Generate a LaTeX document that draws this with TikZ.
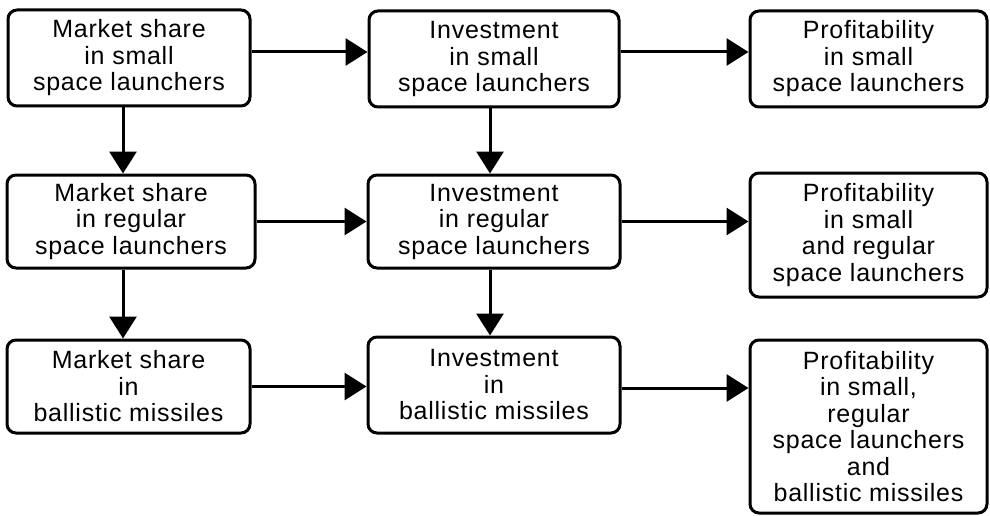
\documentclass[tikz,border=0pt]{standalone}
\usepackage{fontspec}
\setmainfont[LetterSpace=3]{Liberation Sans}
\usetikzlibrary{arrows.meta,calc}
\begin{document}
\begin{tikzpicture}[x=1pt,y=-1pt,
  box/.style={draw,line width=3pt,rounded corners=9pt,inner sep=0pt,align=center,
    font=\fontsize{25}{26.5}\selectfont},
  arr/.style={line width=3pt,-{Triangle[length=22pt,width=27pt]}}]
\useasboundingbox (0,0) rectangle (990,516);
% row 1
\node[box,minimum width=242pt,minimum height=96pt] (A) at (129,58) {Market share\\in small\\space launchers};
\node[box,minimum width=250pt,minimum height=96pt] (B) at (494,59) {Investment\\in small\\space launchers};
\node[box,minimum width=237pt,minimum height=96pt] (C) at (868.5,59) {Profitability\\in small\\space launchers};
% row 2
\node[box,minimum width=248pt,minimum height=93pt] (D) at (131,221.5) {Market share\\in regular\\space launchers};
\node[box,minimum width=252pt,minimum height=93pt] (E) at (494,221.5) {Investment\\in regular\\space launchers};
\node[box,minimum width=237pt,minimum height=124pt] (F) at (868.5,235) {Profitability\\in small\\and regular\\space launchers};
% row 3
\node[box,minimum width=243pt,minimum height=93pt] (G) at (128.5,386.5) {Market share\\in\\ballistic missiles};
\node[box,minimum width=252pt,minimum height=96pt] (H) at (494,385) {Investment\\in\\ballistic missiles};
\node[box,minimum width=237pt,minimum height=173pt] (I) at (868.5,426.5) {Profitability\\in small,\\regular\\space launchers\\and\\ballistic missiles};
% horizontal arrows
\draw[arr] ([yshift=6pt]A.east) -- ([yshift=6pt]A.east -| B.west);
\draw[arr] ([yshift=7pt]B.east) -- ([yshift=7pt]B.east -| C.west);
\draw[arr] (D.east) -- (D.east -| E.west);
\draw[arr] (E.east) -- (E.east -| F.west);
\draw[arr] (G.east) -- (G.east -| H.west);
\draw[arr] ([yshift=-3pt]H.east) -- ([yshift=-3pt]H.east -| I.west);
% vertical arrows
\draw[arr] ([xshift=-6pt]A.south) -- ([xshift=-6pt]A.south |- D.north);
\draw[arr] ([xshift=-8pt]D.south) -- ([xshift=-8pt]D.south |- G.north);
\draw[arr] ([xshift=-4pt]B.south) -- ([xshift=-4pt]B.south |- E.north);
\draw[arr] ([xshift=-4pt]E.south) -- ([xshift=-4pt]E.south |- H.north);
\end{tikzpicture}
\end{document}
